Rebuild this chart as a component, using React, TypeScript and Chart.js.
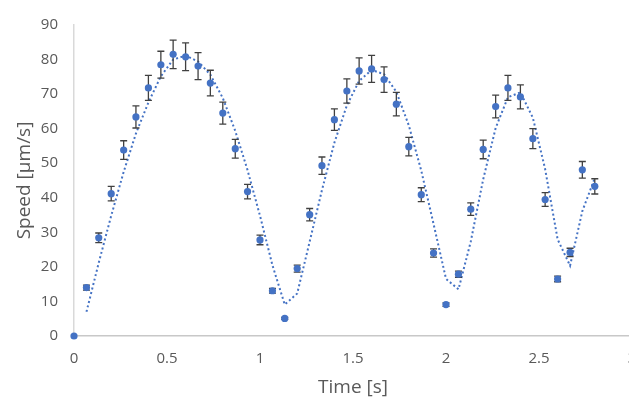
import React, { useEffect, useRef } from 'react';
import { Chart, registerables } from 'chart.js';

Chart.register(...registerables);

const times = [
  0, 0.067, 0.133, 0.2, 0.267, 0.333, 0.4, 0.467, 0.533, 0.6,
  0.667, 0.733, 0.8, 0.867, 0.933, 1.0, 1.067, 1.133, 1.2, 1.267,
  1.333, 1.4, 1.467, 1.533, 1.6, 1.667, 1.733, 1.8, 1.867, 1.933,
  2.0, 2.067, 2.133, 2.2, 2.267, 2.333, 2.4, 2.467, 2.533, 2.6,
  2.667, 2.733, 2.8,
];

const speeds = [
  0, 14.0, 28.4, 41.2, 53.8, 63.4, 71.8, 78.5, 81.5, 80.8,
  78.1, 73.2, 64.5, 54.2, 41.8, 27.8, 13.1, 5.1, 19.5, 35.1,
  49.3, 62.6, 70.9, 76.7, 77.3, 74.2, 67.1, 54.8, 40.9, 24.0,
  9.1, 17.9, 36.7, 54.0, 66.4, 71.8, 69.2, 57.1, 39.5, 16.5,
  24.2, 48.1, 43.3,
];

const errors = [
  0, 0.7, 1.4, 2.1, 2.7, 3.2, 3.6, 3.9, 4.1, 4.0,
  3.9, 3.7, 3.2, 2.7, 2.1, 1.4, 0.7, 0.3, 1.0, 1.8,
  2.5, 3.1, 3.5, 3.8, 3.9, 3.7, 3.4, 2.7, 2.0, 1.2,
  0.5, 0.9, 1.8, 2.7, 3.3, 3.6, 3.5, 2.9, 2.0, 0.8,
  1.2, 2.4, 2.2,
];

const yTicks = { min: 0, max: 90, step: 10 };
const xTicks = { min: 0, max: 3, step: 0.5 };

const BLUE = '#4472C4';
const TEXT = '#595959';

const errorBarPlugin = {
  id: 'errorBars',
  beforeDatasetDraw(chart: any, args: any) {
    if (args.index !== 0) return;
    const { ctx, scales } = chart;
    const y = scales.y;
    const meta = chart.getDatasetMeta(0);
    ctx.save();
    ctx.strokeStyle = '#404040';
    ctx.lineWidth = 1.3;
    meta.data.forEach((pt: any, i: number) => {
      const e = errors[i];
      if (!e) return;
      const yTop = y.getPixelForValue(speeds[i] + e);
      const yBot = y.getPixelForValue(speeds[i] - e);
      const x = pt.x;
      const cap = 3.5;
      ctx.beginPath();
      ctx.moveTo(x, yTop);
      ctx.lineTo(x, yBot);
      ctx.moveTo(x - cap, yTop);
      ctx.lineTo(x + cap, yTop);
      ctx.moveTo(x - cap, yBot);
      ctx.lineTo(x + cap, yBot);
      ctx.stroke();
    });
    ctx.restore();
  },
};

export default function App() {
  const ref = useRef<HTMLCanvasElement>(null);

  useEffect(() => {
    if (!ref.current) return;
    const points = times.map((t, i) => ({ x: t, y: speeds[i] }));
    const trend = times.slice(1).map((t, k) => ({
      x: t,
      y: (speeds[k] + speeds[k + 1]) / 2,
    }));
    const font = "'Open Sans', 'Noto Sans', sans-serif";
    const chart = new Chart(ref.current, {
      type: 'scatter',
      data: {
        datasets: [
          {
            label: 'Speed',
            data: points,
            backgroundColor: BLUE,
            borderColor: BLUE,
            pointRadius: 3.6,
            pointBorderWidth: 0,
            showLine: false,
            clip: false as any,
          },
          {
            label: 'Moving average',
            data: trend,
            showLine: true,
            borderColor: BLUE,
            borderWidth: 2,
            borderDash: [2, 2.6],
            pointRadius: 0,
            fill: false,
            tension: 0,
          },
        ],
      },
      options: {
        animation: false,
        responsive: false,
        layout: { padding: { left: 0, right: 28, top: 15, bottom: 0 } },
        plugins: {
          legend: { display: false },
          tooltip: { enabled: false },
        },
        scales: {
          x: {
            type: 'linear',
            min: xTicks.min,
            max: xTicks.max,
            afterFit: (s: any) => {
              s.height = 64;
            },
            grid: { display: false, drawTicks: false },
            border: { display: true, color: '#c8c8c8', width: 1.5 },
            ticks: {
              stepSize: xTicks.step,
              color: TEXT,
              padding: 14,
              font: { family: font, size: 15 },
              maxRotation: 0,
              callback: (v: any) => String(Number(v)),
            },
            title: {
              display: true,
              text: 'Time [s]',
              color: TEXT,
              font: { family: font, size: 19 },
              padding: { top: 0, bottom: 1 },
            },
          },
          y: {
            type: 'linear',
            min: yTicks.min,
            max: yTicks.max,
            afterFit: (s: any) => {
              s.width = 74;
            },
            grid: { display: false, drawTicks: false },
            border: { display: true, color: '#d9d9d9', width: 1.5 },
            ticks: {
              stepSize: yTicks.step,
              color: TEXT,
              padding: 16,
              font: { family: font, size: 15 },
            },
            title: {
              display: true,
              text: 'Speed [µm/s]',
              color: TEXT,
              font: { family: font, size: 19 },
              padding: { top: 13, bottom: 0 },
            },
          },
        },
      },
      plugins: [errorBarPlugin],
    });
    return () => chart.destroy();
  }, []);

  return (
    <div
      style={{
        position: 'fixed',
        left: 0,
        top: 0,
        width: 629,
        height: 400,
        overflow: 'hidden',
        background: '#fff',
      }}
    >
      <canvas ref={ref} width={660} height={400} style={{ display: 'block' }} />
    </div>
  );
}
